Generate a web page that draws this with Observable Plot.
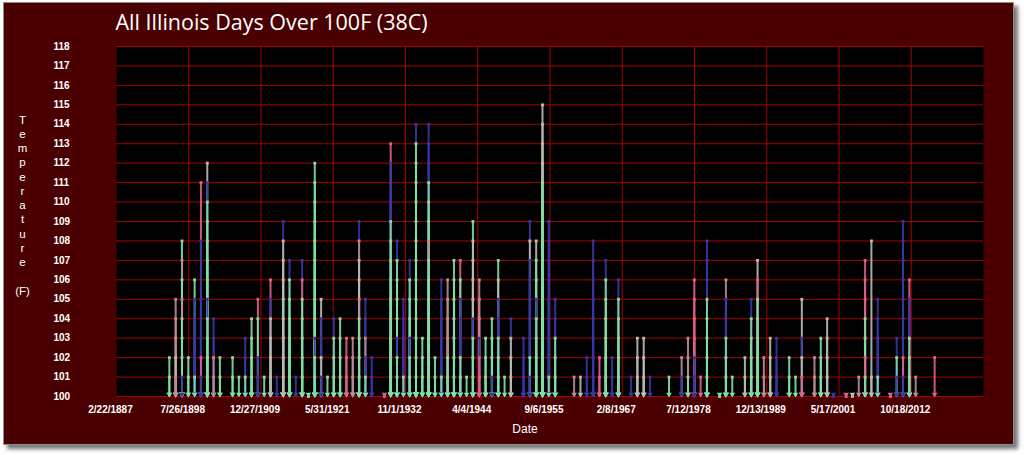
<!DOCTYPE html>
<html><head><meta charset="utf-8">
<script src="https://cdn.jsdelivr.net/npm/d3@7"></script>
<script src="https://cdn.jsdelivr.net/npm/@observablehq/plot@0.6"></script>
<style>
html,body{margin:0;padding:0;background:#fff;width:1024px;height:455px;overflow:hidden;}
#box{position:absolute;left:3px;top:2px;width:1009px;height:441px;background:#4a0000;border:1px solid #8c8c8c;box-shadow:4px 4px 4px rgba(0,0,0,0.55);}
#chart{position:absolute;left:0;top:0;}
</style></head><body>
<div id="box"></div><div id="chart"></div>
<script>
// ---- data ----
const title = "All Illinois Days Over 100F (38C)";
const yLabel = "T\ne\nm\np\ne\nr\na\nt\nu\nr\ne\n\n(F)";
const xLabel = "Date";
const yTicks = [100,101,102,103,104,105,106,107,108,109,110,111,112,113,114,115,116,117,118];
const xTickLabels = ["2/22/1887","7/26/1898","12/27/1909","5/31/1921","11/1/1932","4/4/1944","9/6/1955","2/8/1967","7/12/1978","12/13/1989","5/17/2001","10/18/2012"];
const xDomainEnd = "3/21/2024";
const stationKeys = ["G","B","P","W","R"];
const stationColors = ["#80e0a2","#3636a4","#e0608c","#b9bdae","#c08a92"];
const stemYears = [1895,1896,1897,1898,1899,1900,1901,1902,1903,1905,1906,1907,1908,1909,1910,1911,1912,1913,1914,1915,1916,1917,1918,1919,1920,1921,1922,1923,1924,1925,1926,1927,1929,1930,1931,1932,1933,1934,1935,1936,1937,1938,1939,1940,1941,1942,1943,1944,1945,1946,1947,1948,1949,1951,1952,1953,1954,1955,1956,1959,1960,1961,1962,1963,1964,1965,1966,1968,1969,1970,1971,1974,1976,1977,1978,1979,1980,1982,1983,1984,1986,1987,1988,1989,1990,1991,1993,1994,1995,1997,1998,1999,2000,2002,2003,2004,2005,2006,2007,2009,2010,2011,2012,2013,2016];
const stemReadings = [
"G102 G101","R105 R104 R103 W102 R101","G108 R107 G106 R105 G104 G103 G102 B101","G102 G101","G106 B105 B104 B103 G101",
"P111 B108 B105 B103 P102 B101","W112 B111 G110 G109 G108 G107 G106 B105 G104 G103 G102 G101","B104 B103 R102 R101","G102 G101","G102 G101",
"G101","B103 B102 G101","G104 G103 G102 G101","P105 G104 B102 B101","G101",
"P106 B105 W104 W103 W102 W101","B101","B109 W108 W107 W106 G105 W104 W103 W102 W101","B107 G106 G105 G104 G103 G102 G101","B101",
"B107 P106 G105 G104 G103 G102 G101","G100","G112 G111 G110 G109 G108 G107 G106 G105 G104 B103 G102 G101","W105 B104 B103 W102 B101","G101",
"B104 G103 G102 G101","G104 G103 G102 G101","P103 P102 P101","R103 R102 R101","B109 R108 W107 W106 R105 G104 G103 G102 G101",
"B105 B104 R103 B102 G101","B102 B101","P100","P113 B112 B111 B110 G109 G108 G107 G106 G105 G104 G103 G102 G101","B108 G107 G106 G105 G104 B103 G102 G101",
"B105 B104 B103 B102 G101","B107 G106 G105 G104 B103 G102 G101","B114 G113 G112 G111 G110 G109 G108 G107 G106 G105 G104 G103 G102 G101","G103 G102 G101","B114 B113 B112 G111 G110 G109 R108 G107 G106 G105 G104 G103 G102 G101",
"G102 G101","B106 B105 B104 B103 B102 G101","R106 R105 R104 R103 G102 G101","G107 G106 G105 G104 G103 G102 G101","P107 G106 B105 B104 B103 G102 G101",
"G101","G109 W108 W107 W106 W105 B104 G103 G102 G101","R106 R105 R104 B103 P102 P101","G103 G102 G101","G104 G103 G102 B101",
"G107 W106 B105 B104 G103 G102 G101","G101","B104 W103 W102 W101","B103 B102 B101","B109 W108 B107 B106 B105 B104 B103 G102 B101",
"W108 G107 G106 B105 G104 G103 G102 G101","W115 W114 W113 W112 G111 G110 G109 G108 G107 G106 G105 G104 G103 G102 G101","B109 B108 B107 B106 B105 B104 B103 B102 G101","B105 B104 G103 G102 G101","R101",
"W101","B102 B101","B108 B107 B106 B105 B104 B103 B102 B101","P102 P101","B107 G106 G105 G104 G103 G102 G101",
"B102 B101","B106 G105 G104 G103 G102 G101","B101","W103 W102 W101","W103 W102 W101",
"B101","G101","R102 B101","R103 R102 G101","P106 P105 P104 P103 B102 B101",
"P101","B108 B107 B106 G105 G104 G103 G102 G101","G100","R106 B105 B104 G103 G102 G101","G101",
"W102 W101","B105 G104 G103 G102 G101","W107 P106 G105 G104 G103 G102 G101","R102 R101","W103 W102 W101",
"B103 B102 B101","G102 G101","G101","W105 B103 W102 P101","R102 R101",
"G103 G102 G101","W104 W103 W102 W101","B100","P100","W100",
"R101","P107 P106 P105 G104 G103 P102 G101","W108 W101","B105 B104 B103 B102 G101","P100",
"B103 G102 B101","B109 B108 B107 B106 B105 B104 B103 P102 B101","P106 B105 B104 G103 G102 G101","R101","P102"
];

// ---- build table ----
const parseMDY = s => { const [m,d,y] = s.split("/").map(Number); return new Date(Date.UTC(y, m-1, d)); };
const xTickDates = xTickLabels.map(parseMDY);
const labelOf = new Map(xTickDates.map((d,i)=>[+d, xTickLabels[i]]));
const rows = [];
stemYears.forEach((yr, i) => {
  stemReadings[i].split(" ").forEach(tok => {
    rows.push({date: new Date(Date.UTC(yr, 6, 1)), station: tok[0], temp: +tok.slice(1)});
  });
});
rows.sort((a,b) => b.temp - a.temp);

const grid = "#a80000";
const chart = Plot.plot({
  width: 1024, height: 455,
  marginLeft: 116, marginRight: 41, marginTop: 46, marginBottom: 59,
  style: {background: "transparent", color: "white", fontFamily: "'Liberation Sans', Arial, sans-serif", overflow: "visible"},
  x: {type: "utc", domain: [xTickDates[0], parseMDY(xDomainEnd)]},
  y: {domain: [100, 118]},
  color: {domain: stationKeys, range: stationColors},
  marks: [
    Plot.frame({fill: "black"}),
    Plot.ruleY(yTicks, {stroke: grid, strokeWidth: 1}),
    Plot.ruleX(xTickDates.slice(1), {stroke: grid, strokeWidth: 1}),
    Plot.ruleX(rows, {x: "date", y1: () => 100, y2: "temp", stroke: "station", strokeWidth: 2, strokeOpacity: 0.9}),
    Plot.dot(rows, {x: "date", y: "temp", symbol: "square", r: 1.6, fill: "station"}),
    Plot.dot(rows, {x: "date", y: () => 100, symbol: "triangle", rotate: 180, r: 2.1, fill: "station", dy: -2.2}),
    Plot.axisY({ticks: yTicks, tickSize: 0, tickPadding: 63, textAnchor: "start", fontWeight: "bold", fontSize: 10, label: null, fill: "white"}),
    Plot.axisX({ticks: xTickDates, tickFormat: d => labelOf.get(+d), tickSize: 0, tickPadding: 9, fontWeight: "bold", fontSize: 10, dx: -6, label: null, fill: "white"}),
    Plot.text([xLabel], {frameAnchor: "bottom", dx: -25, dy: 33, lineAnchor: "middle", fontSize: 12, fill: "white"}),
    Plot.text([title], {frameAnchor: "top-left", textAnchor: "start", lineAnchor: "top", dy: -32, dx: -1, fontSize: 21.5, fontFamily: "'Open Sans', sans-serif", fill: "white"}),
    Plot.text([yLabel], {frameAnchor: "top-left", textAnchor: "middle", lineAnchor: "top", dx: -94, dy: 67, fontSize: 11.5, lineHeight: 1.24, fill: "white"})
  ]
});
document.getElementById("chart").appendChild(chart);
</script></body></html>
